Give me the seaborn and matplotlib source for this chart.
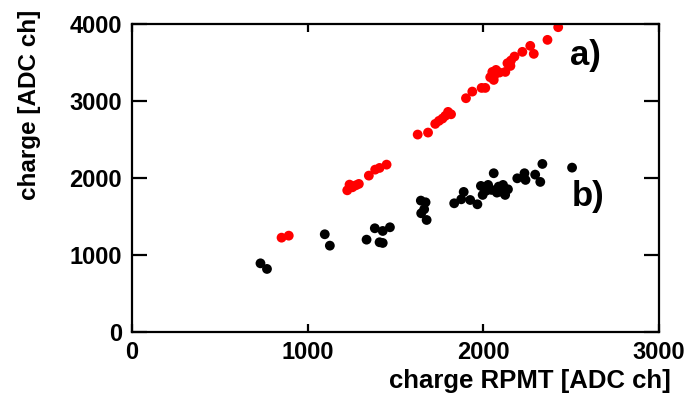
import matplotlib
matplotlib.use("Agg")
import matplotlib.pyplot as plt
import seaborn as sns
import pandas as pd

# series a) (red)
a_x = [852, 893, 1226, 1239, 1255, 1275, 1292, 1349, 1385, 1410, 1450, 1627, 1686,
       1727, 1748, 1768, 1784, 1800, 1817, 1902, 1938, 1991, 2012, 2040, 2060, 2064,
       2052, 2073, 2093, 2126, 2138, 2155, 2158, 2178, 2223, 2268, 2288, 2366, 2427]
a_y = [1223, 1249, 1839, 1913, 1878, 1904, 1922, 2030, 2108, 2130, 2173, 2564, 2590,
       2703, 2742, 2772, 2807, 2859, 2828, 3037, 3123, 3171, 3171, 3310, 3275, 3336,
       3379, 3405, 3371, 3379, 3492, 3457, 3527, 3579, 3640, 3718, 3614, 3796, 3961]
# series b) (black)
b_x = [732, 769, 1098, 1127, 1336, 1383, 1410, 1428, 1428, 1469, 1645, 1672, 1647,
       1664, 1678, 1835, 1875, 1889, 1926, 1967, 1987, 1997, 2007, 2018, 2028, 2060,
       2048, 2078, 2088, 2099, 2113, 2125, 2141, 2194, 2235, 2241, 2296, 2325, 2337, 2506]
b_y = [889, 816, 1267, 1119, 1197, 1345, 1163, 1154, 1310, 1358, 1705, 1683, 1540,
       1592, 1453, 1670, 1722, 1818, 1713, 1657, 1896, 1779, 1865, 1835, 1909, 2061,
       1844, 1809, 1887, 1822, 1909, 1779, 1852, 1995, 2061, 1974, 2043, 1948, 2182, 2134]

x_ticks = [0, 1000, 2000, 3000]
y_ticks = [0, 1000, 2000, 3000, 4000]

df = pd.DataFrame({
    "x": a_x + b_x,
    "y": a_y + b_y,
    "series": ["a)"] * len(a_x) + ["b)"] * len(b_x),
})

sns.set_theme(style="ticks")
plt.rcParams["font.family"] = ["Liberation Sans", "DejaVu Sans"]
plt.rcParams["text.color"] = "black"
plt.rcParams["axes.labelcolor"] = "black"
plt.rcParams["xtick.color"] = "black"
plt.rcParams["ytick.color"] = "black"

fig = plt.figure(figsize=(6.87, 4.03), dpi=100)
ax = fig.add_axes([0.192, 0.177, 0.767, 0.763])

sns.scatterplot(data=df, x="x", y="y", hue="series",
                palette={"a)": "#ff0000", "b)": "#000000"},
                s=50, linewidth=0, legend=False, ax=ax)

ax.set_xlim(0, 3000)
ax.set_ylim(0, 4000)
ax.set_xticks(x_ticks)
ax.set_yticks(y_ticks)
ax.set_xticklabels([str(t) for t in x_ticks], fontsize=17, fontweight="bold")
ax.set_yticklabels([str(t) for t in y_ticks], fontsize=17, fontweight="bold")

for sp in ax.spines.values():
    sp.set_linewidth(1.6)
    sp.set_color("black")

ax.tick_params(axis="x", direction="in", length=6, width=1.6, top=True,
               bottom=True, pad=7, colors="black")
ax.tick_params(axis="y", direction="in", length=11, width=1.6, right=True,
               left=True, pad=7, colors="black")

ax.set_xlabel("charge RPMT [ADC ch]", fontsize=18.5, fontweight="bold")
ax.set_ylabel("charge [ADC ch]", fontsize=17.5, fontweight="bold")
ax.xaxis.set_label_coords(0.755, -0.122)
ax.yaxis.set_label_coords(-0.172, 0.738)

ax.text(2581, 3587, "a)", fontsize=25, fontweight="bold", ha="center", va="center")
ax.text(2598, 1753, "b)", fontsize=25, fontweight="bold", ha="center", va="center")

fig.savefig("out.png", dpi=100)
